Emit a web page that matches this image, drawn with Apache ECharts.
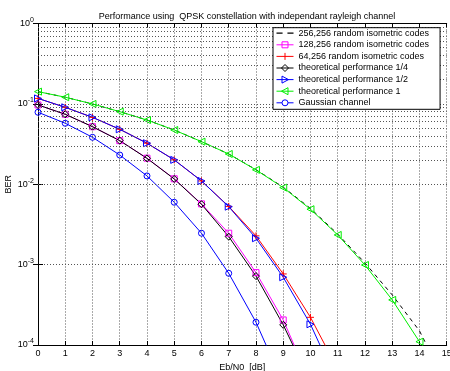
<!DOCTYPE html>
<html><head><meta charset="utf-8">
<script src="https://cdn.jsdelivr.net/npm/echarts@6/dist/echarts.min.js"></script>
<style>html,body{margin:0;padding:0;background:#fff}#c{width:450px;height:371px}</style>
</head><body><div id="c"></div>
<script>
// Eb/N0 values (dB)
const ebn0 = [0,1,2,3,4,5,6,7,8,9,10,11,12,13,14,15];
const xTicks = [0,1,2,3,4,5,6,7,8,9,10,11,12,13,14,15];
const yDecades = [1e-4, 1e-3, 1e-2, 1e-1, 1];
// BER series (last points fall below the visible range)
const codes256 = [0.142,0.121,0.0998,0.080,0.063,0.0473,0.0339,0.0238,0.0152,0.0092,0.0050,0.0024,0.00105,0.00042,0.00015,0.000032];
const codes128 = [0.097,0.0742,0.052,0.0349,0.0211,0.0117,0.0057,0.00246,0.000796,0.000205,0.000034];
const codes64  = [0.117,0.0906,0.068,0.0483,0.0324,0.0201,0.0110,0.0053,0.00228,0.000766,0.000221,0.00005];
const theo14   = [0.097,0.0742,0.052,0.0349,0.0210,0.01164,0.00564,0.00223,0.00072,0.000178,0.000035];
const theo12   = [0.117,0.0906,0.068,0.0483,0.0324,0.0201,0.0110,0.00526,0.00213,0.000697,0.000181,0.000033];
const theo1    = [0.142,0.121,0.0998,0.080,0.063,0.0473,0.0339,0.0238,0.0151,0.00908,0.00489,0.00234,0.00099,0.000364,0.00011];
const gaussian = [0.0787,0.0574,0.0384,0.0231,0.0127,0.00597,0.00246,0.00078,0.000192,0.000033];
const minorMult = [2,3,4,5,6,7,8,9];

const FONT = 'Liberation Sans, Arial, Helvetica, sans-serif';
function pts(arr){ return arr.map((v,i)=>[ebn0[i], v]); }
const minorLines = [];
yDecades.slice(0,-1).forEach(d => minorMult.forEach(m => minorLines.push({yAxis: d*m})));

const plusPath = 'path://M5,0V10M0,5H10';
const NONE = 'rgba(0,0,0,0)';
// legend icons: line + hollow marker
const legIcons = [
  'path://M0,3H5V4H0Z M9,3H14V4H9Z',
  'path://M0,3.5H17M5.5,0.5H11.5V6.5H5.5Z',
  'path://M0,3.5H17M8.5,0V7',
  'path://M0,3.5H17M8.5,0L12,3.5L8.5,7L5,3.5Z',
  'path://M0,3.5H17M5.5,0L12,3.5L5.5,7Z',
  'path://M0,3.5H17M11.5,0L5,3.5L11.5,7Z',
  'path://M0,3.5H5.5M11.5,3.5H17M11.5,3.5A3,3,0,1,1,5.5,3.5A3,3,0,1,1,11.5,3.5Z'
];

function mk(name, arr, color, symbol, opts){
  return Object.assign({
    name, type:'line', data: pts(arr), clip:true,
    symbol: symbol, symbolSize: 6, showSymbol: symbol !== 'none',
    lineStyle:{color, width:1},
    itemStyle:{color:NONE, borderColor:color, borderWidth:1},
    animation:false, z: 3
  }, opts||{});
}

const series = [
  mk('256,256 random isometric codes', codes256, '#000000', 'none', {lineStyle:{color:'#000', width:1, type:[4,4]}}),
  mk('128,256 random isometric codes', codes128, '#ff00ff', 'rect', {symbolSize:6}),
  mk('64,256 random isometric codes', codes64, '#ff0000', plusPath, {symbolSize:7}),
  mk('theoretical performance 1/4', theo14, '#000000', 'diamond', {symbolSize:7}),
  mk('theoretical performance 1/2', theo12, '#0000ff', 'triangle', {symbolRotate:-90, symbolSize:7}),
  mk('theoretical performance 1', theo1, '#00ee00', 'triangle', {symbolRotate:90, symbolSize:7}),
  mk('Gaussian channel', gaussian, '#0000ff', 'circle', {symbolSize:6}),
  {
    type:'line', data:[], silent:true, animation:false, z:1,
    markLine:{silent:true, symbol:'none', label:{show:false}, animation:false,
      lineStyle:{color:'#555', width:1, type:[1,2]}, data:minorLines}
  }
];

const legendData = series.slice(0,7).map((s,i)=> i===0
  ? {name:s.name, icon:legIcons[i], itemStyle:{color:'#000', borderWidth:0}}
  : {name:s.name, icon:legIcons[i], itemStyle:{color:NONE, borderColor:s.lineStyle.color, borderWidth:1}});

const chart = echarts.init(document.getElementById('c'), null, {renderer:'canvas'});
chart.setOption({
  backgroundColor:'#fff',
  textStyle:{fontFamily:FONT},
  title:{text:'Performance using  QPSK constellation with independant rayleigh channel',
    left:242, top:7, textAlign:'center',
    textStyle:{fontFamily:FONT, fontSize:9, fontWeight:'normal', color:'#000'}},
  grid:{left:38, right:3.3, top:23.5, bottom:26, containLabel:false, outerBoundsMode:'none'},
  legend:{
    left:273, top:27.7, orient:'vertical', backgroundColor:'#fff', z:100,
    borderColor:'#000', borderWidth:1, padding:[1,11,2,3],
    itemWidth:17, itemHeight:7, itemGap:2.6,
    textStyle:{fontFamily:FONT, fontSize:9, color:'#000', lineHeight:8},
    data: legendData
  },
  xAxis:[{
    type:'value', min:0, max:15, interval:1, position:'bottom',
    name:'Eb/N0  [dB]', nameLocation:'middle', nameGap:17,
    nameTextStyle:{fontFamily:FONT, fontSize:9, color:'#000'},
    axisLine:{lineStyle:{color:'#000', width:1}},
    axisTick:{inside:true, length:4, lineStyle:{color:'#000'}},
    axisLabel:{fontFamily:FONT, fontSize:9, color:'#000', margin:4,
      formatter:v=> xTicks.includes(v) ? String(v) : ''},
    splitLine:{show:true, lineStyle:{color:'#555', width:1, type:[1,2]}}
  },{
    type:'value', min:0, max:15, interval:1, position:'top',
    axisLine:{lineStyle:{color:'#000', width:1}},
    axisTick:{inside:true, length:4, lineStyle:{color:'#000'}},
    axisLabel:{show:false}, splitLine:{show:false}
  }],
  yAxis:[{
    type:'log', logBase:10, min:1e-4, max:1, position:'left',
    name:'BER', nameLocation:'middle', nameGap:25, nameRotate:90, nameMoveOverlap:false,
    nameTextStyle:{fontFamily:FONT, fontSize:9, color:'#000'},
    axisLine:{show:true, lineStyle:{color:'#000', width:1}},
    axisTick:{show:true, inside:true, length:5, lineStyle:{color:'#000'}},
    axisLabel:{fontFamily:FONT, fontSize:9, color:'#000', margin:4,
      formatter:v=>{ const e=Math.round(Math.log10(v)); return '10{s|'+e+'}'; },
      rich:{s:{fontFamily:FONT, fontSize:7, color:'#000', padding:[0,0,7,0]}}},
    splitLine:{show:true, lineStyle:{color:'#555', width:1, type:[1,2]}}
  },{
    type:'log', logBase:10, min:1e-4, max:1, position:'right',
    axisLine:{show:true, lineStyle:{color:'#000', width:1}},
    axisTick:{show:true, inside:true, length:5, lineStyle:{color:'#000'}},
    axisLabel:{show:false}, splitLine:{show:false}
  }],
  series: series
});
</script>
</body></html>
